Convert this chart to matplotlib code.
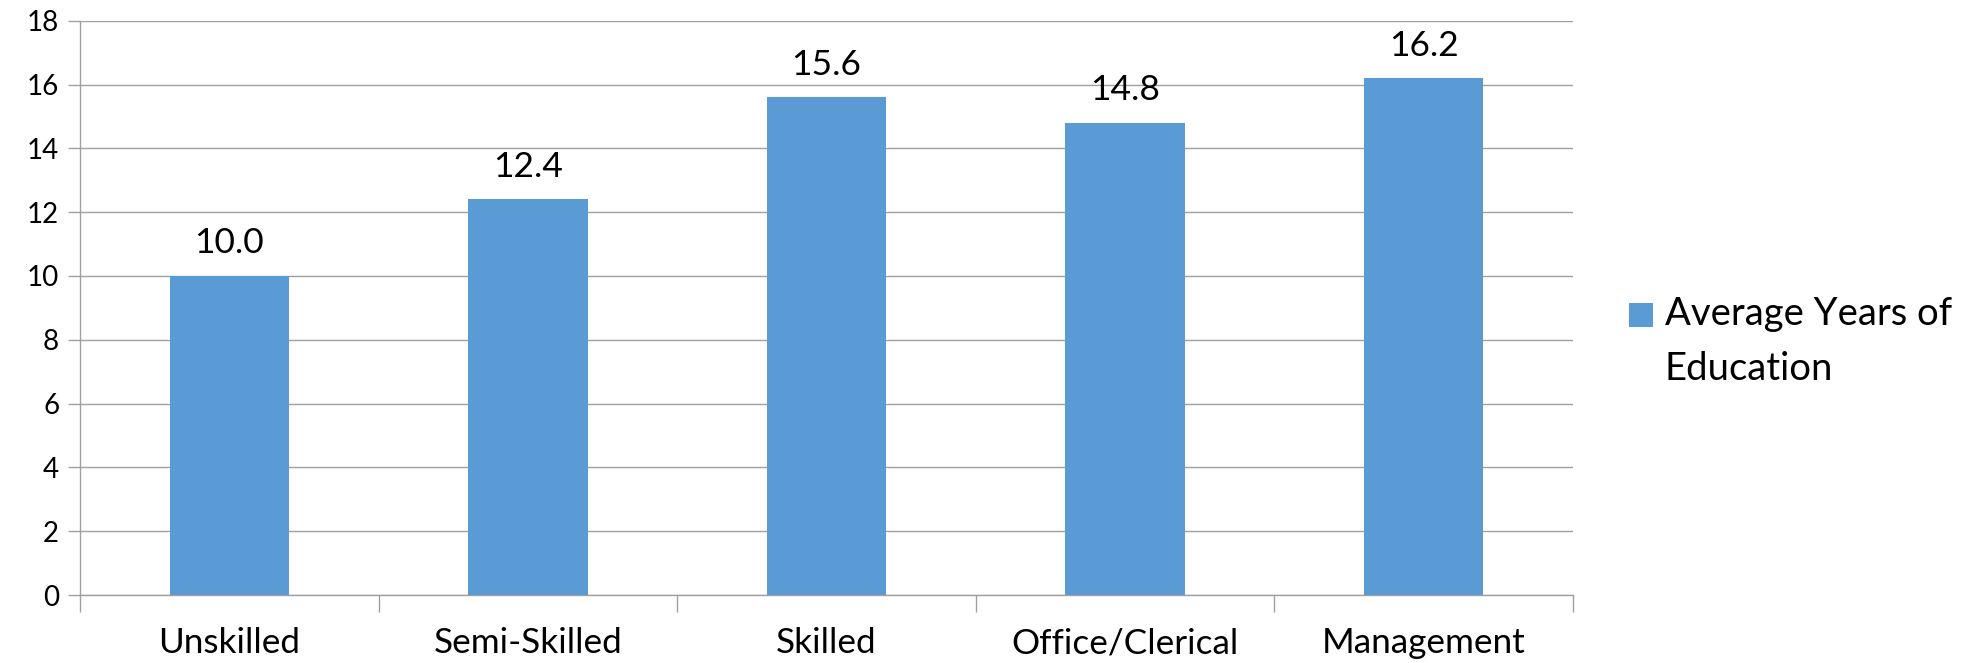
import matplotlib
matplotlib.use("Agg")
import matplotlib.pyplot as plt
from matplotlib.patches import Rectangle

categories = ["Unskilled", "Semi-Skilled", "Skilled", "Office/Clerical", "Management"]
values = [10.0, 12.4, 15.6, 14.8, 16.2]
series_name = "Average Years of\nEducation"
y_ticks = [0, 2, 4, 6, 8, 10, 12, 14, 16, 18]

plt.rcParams["font.family"] = ["Lato", "DejaVu Sans"]

W, H, DPI = 1977, 663, 100
fig = plt.figure(figsize=(W / DPI, H / DPI), dpi=DPI)
left, right, top, bottom = 80, 1573, 20.7, 595
ax = fig.add_axes([left / W, 1 - bottom / H, (right - left) / W, (bottom - top) / H])

bar_color = "#5B9BD5"
grid_color = "#A0A0A0"

x = list(range(len(categories)))
ax.bar(x, values, width=0.4, color=bar_color, zorder=3)
ax.set_xlim(-0.5, len(categories) - 0.5)
ax.set_ylim(0, 18)
ax.set_yticks(y_ticks)
ax.set_yticklabels([str(t) for t in y_ticks], fontsize=20)
for t in y_ticks:
    ax.axhline(t, color=grid_color, lw=1.0, zorder=1)

# category ticks sit on the boundaries between groups
ax.set_xticks([i - 0.5 for i in range(len(categories) + 1)])
ax.set_xticklabels([])
ax.tick_params(axis="x", length=12, color=grid_color, width=1.0)
ax.tick_params(axis="y", length=9, color=grid_color, width=1.0, pad=6)
for i, c in enumerate(categories):
    ax.text(i, -1.515, c, ha="center", va="center", fontsize=25.3, color="black")

for s in ["top", "right"]:
    ax.spines[s].set_visible(False)
for s in ["left", "bottom"]:
    ax.spines[s].set_color(grid_color)
    ax.spines[s].set_linewidth(1.0)

for i, v in enumerate(values):
    ax.text(i, v + 1.02, f"{v:.1f}", ha="center", va="center", fontsize=25.5, color="black")

# legend: colour key beside the first line of a two-line series name
key_x0, key_y0, key_size = 1629, 303, 24
fig.add_artist(Rectangle((key_x0 / W, 1 - (key_y0 + key_size) / H),
                         key_size / W, key_size / H,
                         transform=fig.transFigure, facecolor=bar_color,
                         edgecolor="none"))
# baseline alignment pins the last line of the name
fig.text(1665 / W, 1 - 380 / H, series_name, ha="left", va="baseline",
         fontsize=27.5, linespacing=1.64, color="black")

fig.savefig("out.png", dpi=DPI)
